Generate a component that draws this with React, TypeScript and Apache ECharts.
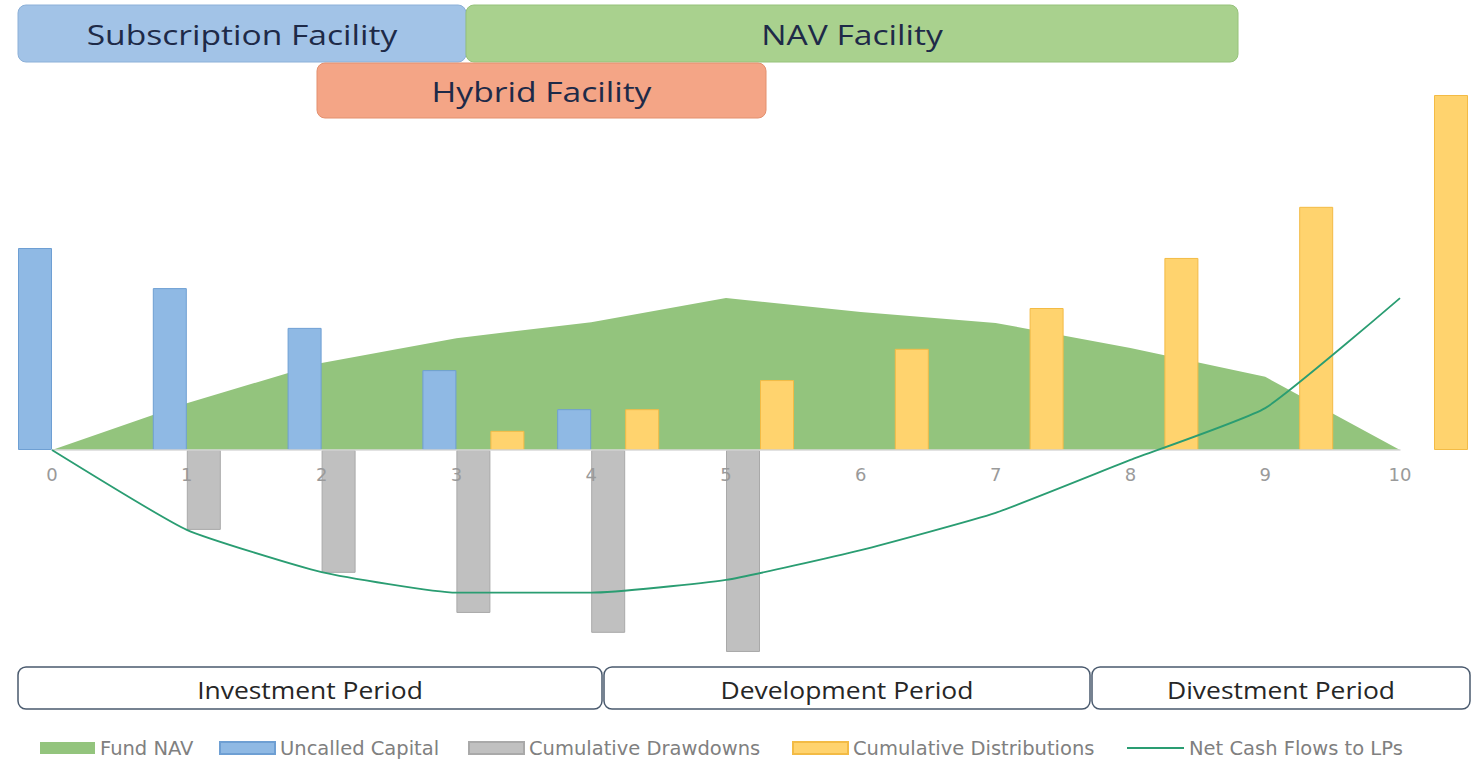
import React, { useEffect, useRef } from "react";
import * as echarts from "echarts";

const categories = ["0", "1", "2", "3", "4", "5", "6", "7", "8", "9", "10"];
const fundNAV = [0, 13.2, 24.5, 31.5, 36, 42.8, 38.9, 35.8, 28.7, 20.6, 0];
const uncalledCapital = [56.9, 45.6, 34.4, 22.5, 11.5, null, null, null, null, null, null];
const cumulativeDrawdowns = [null, -22.5, -34.6, -45.9, -51.5, -56.9, null, null, null, null, null];
const cumulativeDistributions = [null, null, null, 5.4, 11.5, 19.7, 28.5, 40, 54.1, 68.5, 100];
const netCashFlows = [0, -22.5, -34.4, -40.2, -40.2, -36.6, -28.2, -17.7, -2.8, 11.8, 42.8];

const facilities = [
  { label: "Subscription Facility", x: 18, y: 5, w: 448, h: 57, fill: "#a2c3e7", stroke: "#8cb0d8" },
  { label: "NAV Facility", x: 466, y: 5, w: 772, h: 57, fill: "#a9d18e", stroke: "#96c27b" },
  { label: "Hybrid Facility", x: 317, y: 63, w: 449, h: 55, fill: "#f4a586", stroke: "#e3906f" },
];
const periods = [
  { label: "Investment Period", x: 18, w: 584 },
  { label: "Development Period", x: 604, w: 486 },
  { label: "Divestment Period", x: 1092, w: 378 },
];

const FONT = "'Open Sans', 'Noto Sans', sans-serif";
const WIDE = "'DejaVu Sans', sans-serif";

export default function App() {
  const ref = useRef<HTMLDivElement>(null);
  useEffect(() => {
    if (!ref.current) return;
    const chart = echarts.init(ref.current, null, { renderer: "svg" });
    const graphics: any[] = [];
    facilities.forEach((f) => {
      graphics.push({
        type: "rect",
        shape: { x: f.x, y: f.y, width: f.w, height: f.h, r: 8 },
        style: { fill: f.fill, stroke: f.stroke, lineWidth: 1 },
        z: 10,
      });
      graphics.push({
        type: "text",
        x: f.x + f.w / 2,
        y: f.y + f.h / 2 + 1,
        scaleX: 1.2,
        style: {
          text: f.label,
          fontSize: 28,
          fontFamily: FONT,
          fill: "#1e2a48",
          align: "center",
          verticalAlign: "middle",
        },
        z: 11,
      });
    });
    periods.forEach((p) => {
      graphics.push({
        type: "rect",
        shape: { x: p.x, y: 667, width: p.w, height: 42, r: 8 },
        style: { fill: "#ffffff", stroke: "#4a5a6e", lineWidth: 1.5 },
        z: 10,
      });
      graphics.push({
        type: "text",
        x: p.x + p.w / 2,
        y: 690,
        scaleX: 1.15,
        style: {
          text: p.label,
          fontSize: 23,
          fontFamily: FONT,
          fill: "#262626",
          align: "center",
          verticalAlign: "middle",
        },
        z: 11,
      });
    });

    const legendBase = {
      top: 738,
      itemWidth: 55,
      itemHeight: 12,
      padding: 0,
      itemGap: 0,
      textStyle: { color: "#808080", fontSize: 19.5, fontFamily: WIDE },
    };

    chart.setOption({
      animation: false,
      backgroundColor: "#ffffff",
      grid: { left: 52, right: 73, top: 95, bottom: 101 },
      legend: [
        { ...legendBase, left: 40, data: [{ name: "Fund NAV", icon: "rect" }] },
        { ...legendBase, left: 219, data: [{ name: "Uncalled Capital", icon: "rect" }] },
        { ...legendBase, left: 468, data: [{ name: "Cumulative Drawdowns", icon: "rect" }] },
        { ...legendBase, left: 792, data: [{ name: "Cumulative Distributions", icon: "rect" }] },
        {
          ...legendBase,
          left: 1127,
          itemWidth: 57,
          itemHeight: 2,
          data: [{ name: "Net Cash Flows to LPs", icon: "rect" }],
        },
      ],
      xAxis: {
        type: "category",
        data: categories,
        boundaryGap: false,
        position: "bottom",
        offset: -213,
        axisLine: { onZero: false, lineStyle: { color: "#d9d9d9", width: 1.5 } },
        axisTick: { show: false },
        axisLabel: { color: "#9a9a9a", fontSize: 18, fontFamily: WIDE, margin: 15 },
        splitLine: { show: false },
        z: 3,
      },
      yAxis: {
        type: "value",
        min: -60,
        max: 100,
        show: false,
        splitLine: { show: false },
      },
      graphic: graphics,
      series: [
        {
          name: "Fund NAV",
          type: "line",
          data: fundNAV,
          symbol: "none",
          lineStyle: { width: 0 },
          itemStyle: { color: "#93c47d" },
          areaStyle: { color: "#93c47d", opacity: 1 },
          z: 1,
        },
        {
          name: "_pad",
          type: "bar",
          data: categories.map(() => null),
          barWidth: 34,
          barGap: "0%",
          clip: false,
        },
        {
          name: "Uncalled Capital",
          type: "bar",
          data: uncalledCapital,
          barWidth: 34,
          barGap: "0%",
          clip: false,
          itemStyle: { color: "#8fb9e4", borderColor: "#6e9fd3", borderWidth: 1 },
          z: 2,
        },
        {
          name: "Cumulative Drawdowns",
          type: "bar",
          data: cumulativeDrawdowns,
          barWidth: 34,
          barGap: "0%",
          clip: false,
          itemStyle: { color: "#c0c0c0", borderColor: "#a9a9a9", borderWidth: 1 },
          z: 2,
        },
        {
          name: "Cumulative Distributions",
          type: "bar",
          data: cumulativeDistributions,
          barWidth: 34,
          barGap: "0%",
          clip: false,
          itemStyle: { color: "#ffd36e", borderColor: "#f3bb45", borderWidth: 1 },
          z: 2,
        },
        {
          name: "Net Cash Flows to LPs",
          type: "line",
          data: netCashFlows,
          symbol: "none",
          smooth: 0.15,
          itemStyle: { color: "#2a9d72" },
          lineStyle: { color: "#2a9d72", width: 1.8 },
          z: 5,
        },
      ],
    });
    return () => chart.dispose();
  }, []);
  return (
    <div
      ref={ref}
      style={{ position: "absolute", left: 0, top: 0, width: 1473, height: 764 }}
    />
  );
}
